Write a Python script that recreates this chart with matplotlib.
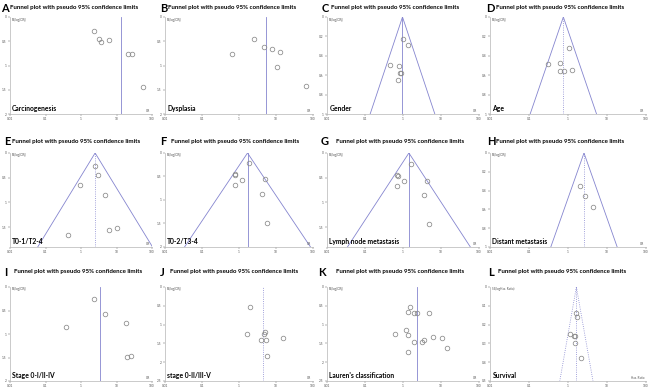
import numpy as np
import matplotlib.pyplot as plt

plt.rcParams['font.family'] = ['Lato', 'DejaVu Sans']

# odds ratios (x) and standard errors of log OR (y)
or_a = [2.25, 3.3, 3.6, 6.0, 21, 28, 56]
se_a = [0.29, 0.46, 0.51, 0.48, 0.77, 0.77, 1.44]
or_b = [2.6, 4.8, 7.8, 12.9, 0.66, 10.5, 66]
se_b = [0.45, 0.61, 0.65, 0.73, 0.77, 1.03, 1.43]
or_c = [1.0, 1.37, 0.45, 0.77, 0.85, 0.9, 0.72]
se_c = [0.225, 0.29, 0.49, 0.51, 0.58, 0.58, 0.65]
or_d = [1.04, 0.62, 0.31, 0.64, 0.77, 1.29]
se_d = [0.32, 0.47, 0.48, 0.56, 0.56, 0.55]
or_e = [2.5, 3.1, 0.94, 4.8, 0.42, 6.0, 10.2]
se_e = [0.27, 0.45, 0.65, 0.84, 1.65, 1.56, 1.51]
or_f = [1.86, 0.78, 0.8, 1.18, 5.0, 0.76, 4.3, 5.7]
se_f = [0.21, 0.45, 0.47, 0.57, 0.56, 0.68, 0.87, 1.49]
or_g = [1.66, 0.71, 0.72, 1.06, 4.2, 0.68, 3.5, 4.8]
se_g = [0.22, 0.45, 0.46, 0.57, 0.56, 0.66, 0.85, 1.44]
or_h = [2.0, 2.8, 4.5]
se_h = [0.35, 0.46, 0.57]
or_i = [2.4, 4.6, 0.38, 18, 20, 26]
se_i = [0.25, 0.57, 0.86, 0.77, 1.48, 1.47]
or_j = [1.97, 1.6, 5.0, 4.6, 3.9, 5.5, 15.4, 5.7]
se_j = [0.54, 1.26, 1.19, 1.26, 1.41, 1.41, 1.36, 1.83]
or_k = [1.5, 1.35, 1.95, 2.3, 4.7, 1.17, 0.61, 1.35, 6.3, 10.8, 3.5, 3.2, 1.95, 14, 1.33]
se_k = [0.54, 0.66, 0.68, 0.70, 0.68, 1.14, 1.24, 1.27, 1.32, 1.35, 1.41, 1.46, 1.46, 1.62, 1.72]
or_l = [1.64, 1.74, 1.13, 1.45, 1.55, 1.5, 2.1]
se_l = [0.14, 0.16, 0.25, 0.26, 0.26, 0.30, 0.38]

letters = ['A', 'B', 'C', 'D', 'E', 'F', 'G', 'H', 'I', 'J', 'K', 'L']
names = ['Carcinogenesis', 'Dysplasia', 'Gender', 'Age', 'T0-1/T2-4', 'T0-2/T3-4',
         'Lymph node metastasis', 'Distant metastasis', 'Stage 0-I/II-IV',
         'stage 0-II/III-V', "Lauren's classification", 'Survival']
pooled = [13.5, 5.3, 0.97, 0.76, 2.5, 1.7, 1.43, 2.57, 3.45, 4.4, 2.4, 1.64]
ymax = [2, 2, 1, 1, 1.9, 2, 1.9, 1, 2, 2.5, 2.5, 0.5]
ystep = [0.5, 0.5, 0.2, 0.2, 0.5, 0.5, 0.5, 0.2, 0.5, 0.5, 0.5, 0.1]
has_funnel = [False, False, True, True, True, True, True, True, False, False, False, True]

ors = [or_a, or_b, or_c, or_d, or_e, or_f, or_g, or_h, or_i, or_j, or_k, or_l]
ses = [se_a, se_b, se_c, se_d, se_e, se_f, se_g, se_h, se_i, se_j, se_k, se_l]

W, H = 650, 388
fig = plt.figure(figsize=(6.5, 3.88), dpi=100)

col_left = [10, 165, 327, 490]
col_w = [142, 148, 152, 156]
row_top = [17, 153, 287]
row_bot = [114, 247, 381]
title_y = [8, 141, 272]
letter_x = [1, 160, 322, 486, 4, 160, 321, 487, 4, 160, 318, 488]
title_x = [10, 168, 331, 496, 12, 171, 336, 496, 14, 170, 336, 498]
vstyle = ['-', '-', '-', ':', ':', '-', '-', ':', '-', ':', '-', ':']

lc = '#8585cf'
for i in range(12):
    r, c = divmod(i, 4)
    ax = fig.add_axes([col_left[c] / W, 1 - row_bot[r] / H,
                       col_w[c] / W, (row_bot[r] - row_top[r]) / H])
    ax.set_xscale('log')
    ax.set_xlim(0.01, 100)
    ax.set_ylim(ymax[i], 0)
    if has_funnel[i]:
        s = np.array([0, ymax[i]])
        ax.plot(pooled[i] * np.exp(-1.96 * s), s, color=lc, lw=0.6,
                ls='-' if i != 11 else ':')
        ax.plot(pooled[i] * np.exp(1.96 * s), s, color=lc, lw=0.6,
                ls='-' if i != 11 else ':')
    ax.axvline(pooled[i], color=lc, lw=0.6, ls=vstyle[i])
    ax.plot(ors[i], ses[i], 'o', ms=3.3, mfc='none', mec='#8a8a8a', mew=0.55)
    ax.set_xticks([0.01, 0.1, 1, 10, 100])
    ax.set_xticklabels(['0.01', '0.1', '1', '10', '100'])
    ax.minorticks_off()
    yt = np.arange(0, ymax[i] + 1e-9, ystep[i])
    ax.set_yticks(yt)
    ax.set_yticklabels(['%g' % v for v in yt])
    ax.tick_params(labelsize=2.3, length=1.5, width=0.3, pad=1, colors='#555555')
    for sp in ['top', 'right']:
        ax.spines[sp].set_visible(False)
    for sp in ['left', 'bottom']:
        ax.spines[sp].set_color('#b5b5b5')
        ax.spines[sp].set_linewidth(0.5)
    ylab = 'SE(logHaz. Ratio)' if i == 11 else 'SE(log[OR])'
    xlab = 'Haz. Ratio' if i == 11 else 'OR'
    ax.text(0.015, 0.995, ylab, transform=ax.transAxes, fontsize=2.2,
            va='top', ha='left', color='#555555')
    ax.text(0.99, 0.01, xlab, transform=ax.transAxes, fontsize=2.2,
            va='bottom', ha='right', color='#555555')
    ax.text(0.015, 0.02, names[i], transform=ax.transAxes, fontsize=4.9,
            fontweight='bold', va='bottom', ha='left')
    fig.text(letter_x[i] / W, 1 - title_y[r] / H, letters[i], fontsize=8,
             fontweight='bold', va='center', ha='left')
    fig.text(title_x[i] / W, 1 - title_y[r] / H,
             'Funnel plot with pseudo 95% confidence limits', fontsize=4.4,
             fontweight='bold', va='center', ha='left')

fig.savefig('out.png', dpi=100)
